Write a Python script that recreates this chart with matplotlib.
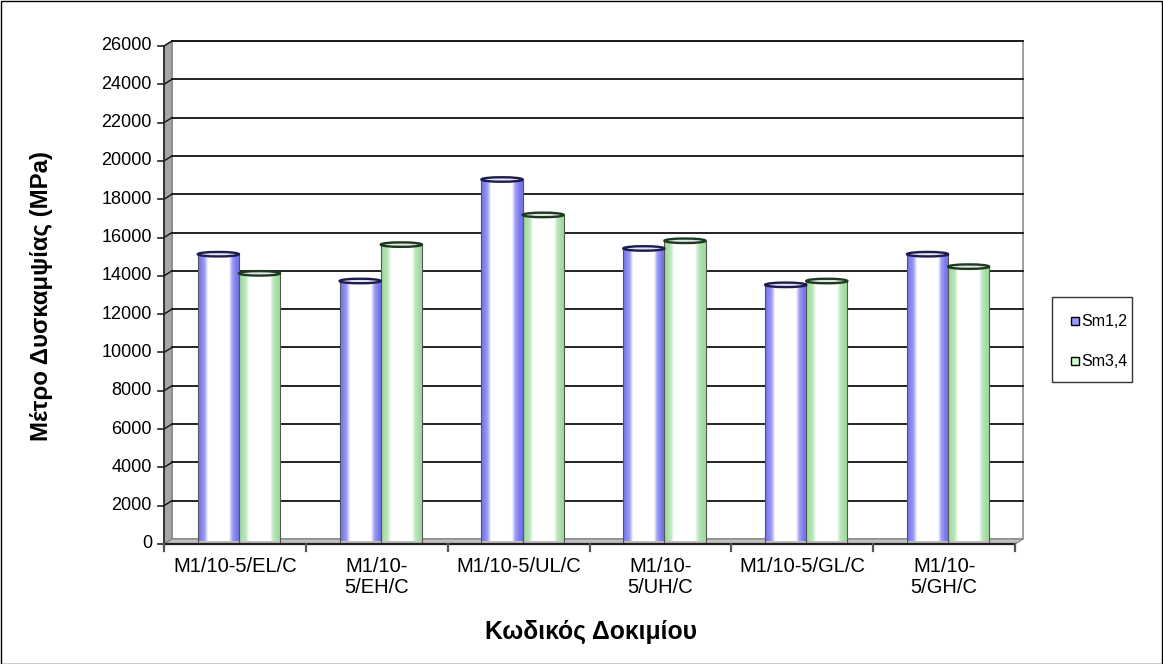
import numpy as np
import matplotlib
matplotlib.use("Agg")
import matplotlib.pyplot as plt
from matplotlib.patches import Polygon, Rectangle, Ellipse
from matplotlib.lines import Line2D

plt.rcParams['font.family'] = ['Liberation Sans', 'DejaVu Sans']

# ---- data ----
categories = ["M1/10-5/EL/C", "M1/10-\n5/EH/C", "M1/10-5/UL/C",
              "M1/10-\n5/UH/C", "M1/10-5/GL/C", "M1/10-\n5/GH/C"]
series_names = ["Sm1,2", "Sm3,4"]
sm12 = [15000, 13600, 18900, 15300, 13400, 15000]
sm34 = [14000, 15500, 17050, 15700, 13600, 14350]
y_ticks = list(range(0, 26001, 2000))

W, H, DPI = 1163, 664, 100
fig = plt.figure(figsize=(W / DPI, H / DPI), dpi=DPI)
fig.patch.set_facecolor("white")

# front plot frame in pixels
px_l, px_r, px_top, px_bot = 164, 1015, 46, 544
ax = fig.add_axes([px_l / W, (H - px_bot) / H, (px_r - px_l) / W, (px_bot - px_top) / H])
ymax = y_ticks[-1]
n = len(categories)
ax.set_xlim(0, n)
ax.set_ylim(0, ymax)
ax.axis("off")

# 3-D depth offset (8 px right, 5 px up)
dx = 8 / (px_r - px_l) * n
dy = 5 / (px_bot - px_top) * ymax

# side wall and floor
ax.add_patch(Polygon([(0, 0), (dx, dy), (dx, ymax + dy), (0, ymax)], closed=True,
                     facecolor="#a6a6a6", edgecolor="#808080", lw=0.8, clip_on=False, zorder=1))
ax.add_patch(Polygon([(0, 0), (n, 0), (n + dx, dy), (dx, dy)], closed=True,
                     facecolor="#c0c0c0", edgecolor="#808080", lw=0.8, clip_on=False, zorder=1))
# back wall
ax.add_patch(Rectangle((dx, dy), n, ymax, facecolor="white", edgecolor="#8c8c8c",
                       lw=1.2, clip_on=False, zorder=0.5))

# gridlines on back wall plus slanted segments across the side wall
for v in y_ticks[1:]:
    ax.add_line(Line2D([dx, n + dx], [v + dy, v + dy], color="#111111", lw=1.3,
                       clip_on=False, zorder=2))
    ax.add_line(Line2D([0, dx], [v, v + dy], color="#111111", lw=1.0,
                       clip_on=False, zorder=2))

# front axes lines and ticks
ax.add_line(Line2D([0, 0], [0, ymax], color="#222222", lw=1.2, clip_on=False, zorder=6))
ax.add_line(Line2D([0, n], [0, 0], color="#222222", lw=1.6, clip_on=False, zorder=6))
tick_len_x = 6 / (px_r - px_l) * n
tick_len_y = 7 / (px_bot - px_top) * ymax
for v in y_ticks:
    ax.add_line(Line2D([-tick_len_x, 0], [v, v], color="#222222", lw=1.2,
                       clip_on=False, zorder=6))
    ax.text(-0.085, v, f"{v}", ha="right", va="center", fontsize=13, color="black")
for i in range(n + 1):
    ax.add_line(Line2D([i, i], [0, -tick_len_y], color="#555555", lw=1.6,
                       clip_on=False, zorder=6))
for i, lab in enumerate(categories):
    ax.text(i + 0.5, -700, lab, ha="center", va="top", fontsize=14.5,
            linespacing=1.1, color="black")

# cylinder bars
bar_w = 0.29
shift = dx / 2
u = np.linspace(0, 1, 200)
weight = np.interp(u, [0, 0.06, 0.16, 0.24, 0.74, 0.82, 0.93, 1.0],
                   [1.0, 0.95, 0.7, 0.0, 0.0, 0.7, 1.0, 1.0])
palette = {"Sm1,2": (np.array([118, 118, 238]) / 255, "#1c1c50"),
           "Sm3,4": (np.array([160, 220, 160]) / 255, "#1e3a1e")}
cap_h = 4.5 / (px_bot - px_top) * ymax

def draw_cylinder(x0, value, name):
    base, dark = palette[name]
    rgb = (1 - weight[:, None]) * 1.0 + weight[:, None] * base[None, :]
    img = np.repeat(rgb[None, :, :], 2, axis=0)
    y0 = dy / 2
    y1 = value + dy / 2
    ax.imshow(img, extent=(x0, x0 + bar_w, y0, y1), aspect="auto",
              interpolation="bilinear", zorder=3, origin="lower")
    for xe in (x0, x0 + bar_w):
        ax.add_line(Line2D([xe, xe], [y0, y1], color="#555555", lw=0.8, zorder=3.2))
    ax.add_patch(Ellipse((x0 + bar_w / 2, y1), bar_w, cap_h, facecolor="#e4e4ea",
                         edgecolor=dark, lw=1.7, zorder=3.3))

for i in range(n):
    c = i + 0.5 + shift
    draw_cylinder(c - bar_w, sm12[i], series_names[0])
    draw_cylinder(c, sm34[i], series_names[1])

ax.set_xlim(0, n)
ax.set_ylim(0, ymax)

# axis titles
fig.text(42 / W, 1 - 296 / H, "Μέτρο Δυσκαμψίας (MPa)", rotation=90, ha="center",
         va="center", fontsize=17.3, fontweight="bold")
fig.text(591 / W, 1 - 632 / H, "Κωδικός Δοκιμίου", ha="center", va="center",
         fontsize=17.8, fontweight="bold")

# legend
fig.add_artist(Rectangle((1052 / W, 1 - 382 / H), 80 / W, 85 / H, transform=fig.transFigure,
                         facecolor="white", edgecolor="#333333", lw=1.0))
legend_cols = ["#9999ff", "#ccffcc"]
for k, (name, col) in enumerate(zip(series_names, legend_cols)):
    yc = 321 + 40 * k
    fig.add_artist(Rectangle((1071 / W, 1 - (yc + 4) / H), 8 / W, 8 / H,
                             transform=fig.transFigure, facecolor=col,
                             edgecolor="black", lw=1.0))
    fig.text(1081 / W, 1 - yc / H, name, ha="left", va="center", fontsize=11.5)

# outer border
fig.add_artist(Rectangle((0.5 / W, 0.5 / H), (W - 1.5) / W, (H - 1.5) / H,
                         transform=fig.transFigure, facecolor="none",
                         edgecolor="black", lw=1.0))

fig.savefig("out.png", dpi=DPI)
